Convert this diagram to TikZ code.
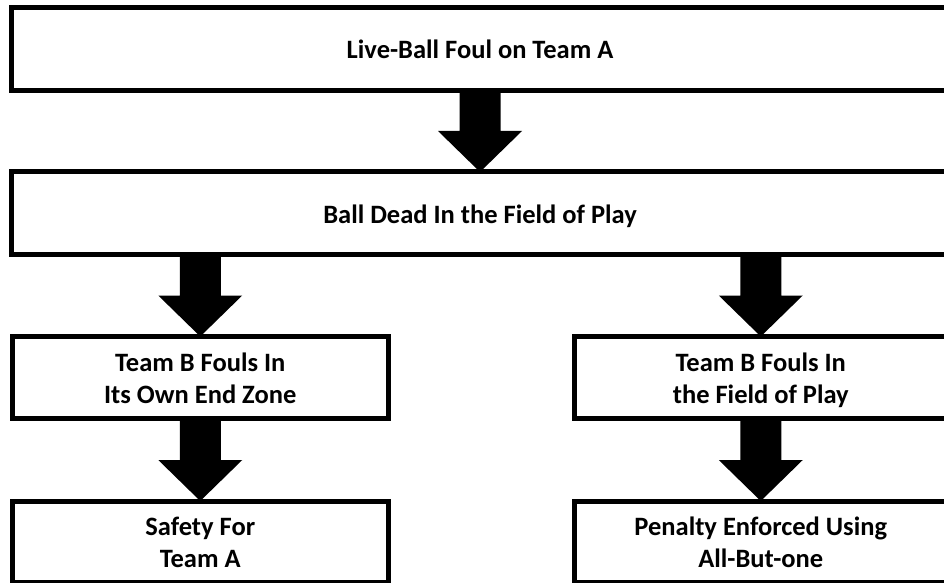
\documentclass[tikz,border=0pt]{standalone}
\usepackage{fontspec}
\setmainfont{Carlito}
\usetikzlibrary{calc}
\newcommand\lstrut{\rule[-5pt]{0pt}{30pt}}
\tikzset{
  box/.style={draw=black, line width=5pt, outer sep=0pt, inner sep=0pt,
    font=\fontsize{26.5}{32}\selectfont\bfseries, align=center, text=black},
}
\newcommand\blockarrow[2]{%
  \fill[black] let \p1=(#1.south), \p2=(#2.north) in
    (\x2-20.5pt,\y1+2pt) -- (\x2+20.5pt,\y1+2pt) -- (\x2+20.5pt,\y2+41pt)
    -- (\x2+42pt,\y2+41pt) -- (\x2,\y2) -- (\x2-42pt,\y2+41pt)
    -- (\x2-20.5pt,\y2+41pt) -- cycle;}
\begin{document}
\begin{tikzpicture}[x=1pt,y=1pt]
\useasboundingbox (0,0) rectangle (944,582);
\fill[white] (0,0) rectangle (944,582);
\begin{scope}
\clip (0,0) rectangle (944,582);
\node[box, minimum width=937pt, minimum height=83pt] (top) at (480,533) {Live-Ball Foul on Team A\lstrut};
\node[box, minimum width=937pt, minimum height=82.5pt] (mid) at (480,368.75) {Ball Dead In the Field of Play\lstrut};
\node[box, minimum width=376.5pt, minimum height=82pt] (ml) at (200.25,204.5) {Team B Fouls In\lstrut\\Its Own End Zone\lstrut};
\node[box, minimum width=372.5pt, minimum height=82pt] (mr) at (760.75,204.5) {Team B Fouls In\lstrut\\the Field of Play\lstrut};
\node[box, minimum width=376.5pt, minimum height=81pt] (bl) at (200.25,40.5) {Safety For\lstrut\\Team A\lstrut};
\node[box, minimum width=372.5pt, minimum height=81pt] (br) at (760.75,40.5) {Penalty Enforced Using\lstrut\\All-But-one\lstrut};
\blockarrow{top}{mid}
\blockarrow{mid}{ml}
\blockarrow{mid}{mr}
\blockarrow{ml}{bl}
\blockarrow{mr}{br}
\end{scope}
\end{tikzpicture}
\end{document}
